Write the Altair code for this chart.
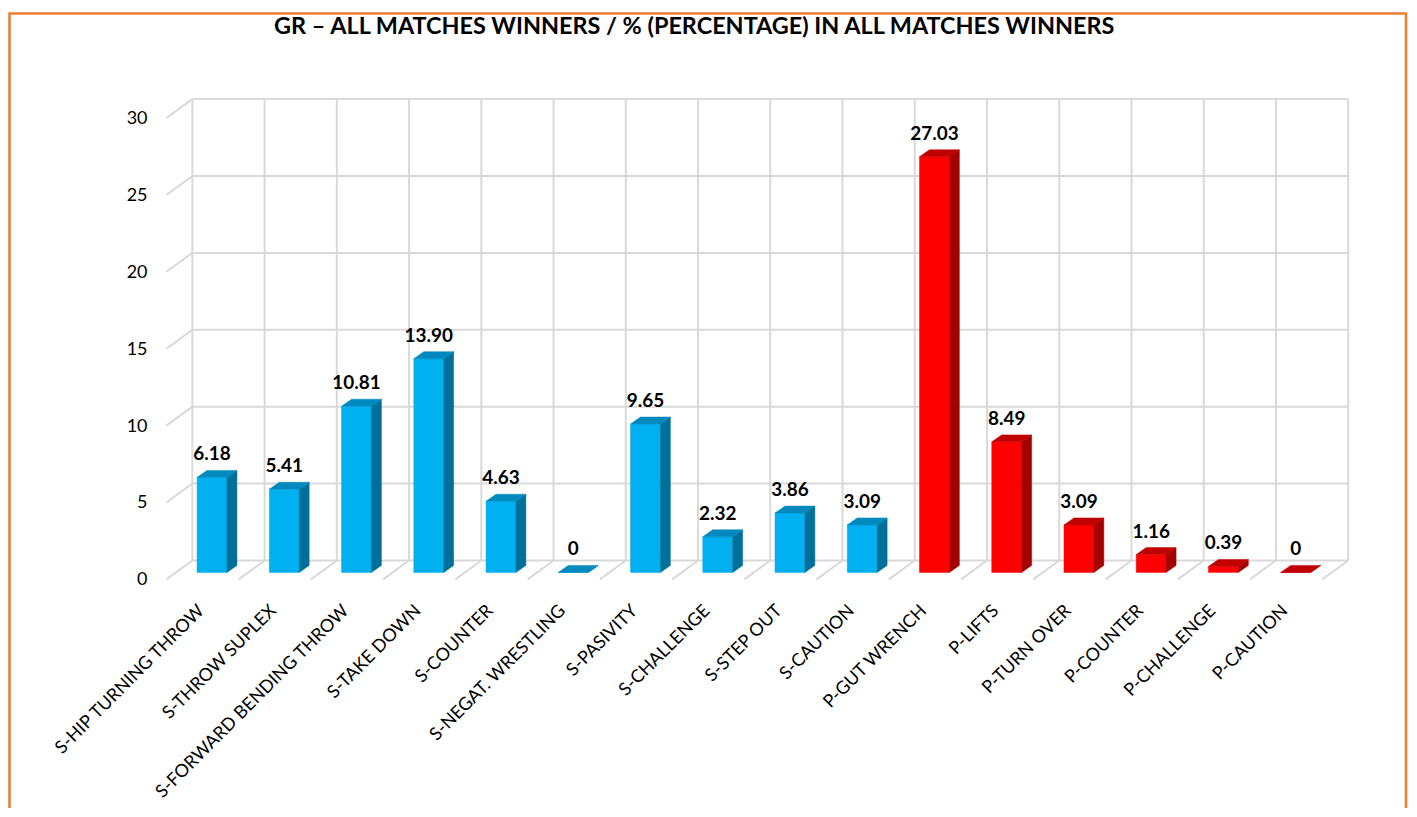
import altair as alt
import pandas as pd

# ---------------- data ----------------
categories = [
    "S-HIP TURNING THROW", "S-THROW SUPLEX", "S-FORWARD BENDING THROW", "S-TAKE DOWN",
    "S-COUNTER", "S-NEGAT. WRESTLING", "S-PASIVITY", "S-CHALLENGE", "S-STEP OUT",
    "S-CAUTION", "P-GUT WRENCH", "P-LIFTS", "P-TURN OVER", "P-COUNTER",
    "P-CHALLENGE", "P-CAUTION",
]
values = [6.18, 5.41, 10.81, 13.90, 4.63, 0, 9.65, 2.32, 3.86, 3.09,
          27.03, 8.49, 3.09, 1.16, 0.39, 0]
value_labels = ["6.18", "5.41", "10.81", "13.90", "4.63", "0", "9.65", "2.32", "3.86",
                "3.09", "27.03", "8.49", "3.09", "1.16", "0.39", "0"]
y_ticks = [0, 5, 10, 15, 20, 25, 30]
title_text = "GR \u2013 ALL MATCHES WINNERS / % (PERCENTAGE) IN ALL MATCHES WINNERS"

# ---------------- geometry / style ----------------
W, H = 1160, 463
N = len(categories)
YMAX = 30
ux = W / N          # px per x unit
uy = H / YMAX       # px per y unit
FRONT_DX, FRONT_DY = -16.5, 12     # bar front plane shift from back wall (px)
HALF = 15                           # half width of bar front face (px)
DEP_X, DEP_Y = 10, 7                # bar depth projection (px)
WALL_DX, WALL_DY = -26, 19          # full depth projection of walls (px)
FONT = "Lato"
GRID = "#D9D9D9"

face_domain = ["S-front", "S-side", "S-top", "P-front", "P-side", "P-top"]
face_range = ["#00B0F0", "#00709B", "#0089BE", "#FF0000", "#A30000", "#C00000"]

rows = []
for i, (cat, v) in enumerate(zip(categories, values)):
    g = cat[0]
    c = i + 0.5
    L = c + (FRONT_DX - HALF) / ux
    R = c + (FRONT_DX + HALF) / ux
    D = DEP_X / ux
    up = DEP_Y / uy
    base = -FRONT_DY / uy
    top = v - FRONT_DY / uy
    polys = {
        "front": [(L, top, base), (R, top, base)],
        "side": [(R, top, base), (R + D, top + up, base + up)],
        "top": [(L, top, top), (L + D, top + up, top), (R, top + up, top),
                (R + D, top + up, top + up)],
    }
    for face, pts in polys.items():
        for (x, y1, y2) in pts:
            rows.append({"poly": f"{i:02d}-{face}", "face": f"{g}-{face}",
                         "x": x, "y": y1, "y2": y2})
poly_df = pd.DataFrame(rows)

bars_df = pd.DataFrame({"cat": categories, "v": values, "lab": value_labels,
                        "c": [i + 0.5 for i in range(N)], "zero": [0] * N})
hgrid_df = pd.DataFrame({"y": y_ticks, "x0": [0] * len(y_ticks), "x1": [N] * len(y_ticks)})
vgrid_df = pd.DataFrame({"x": list(range(N + 1)), "y0": [0] * (N + 1), "y1": [YMAX] * (N + 1)})
diag_df = pd.DataFrame({"x": [0] * len(y_ticks) + list(range(1, N + 1)),
                        "y": y_ticks + [0] * N})

xs = alt.Scale(domain=[0, N], nice=False, zero=False)
ys = alt.Scale(domain=[0, YMAX], nice=False, zero=False)

hgrid = alt.Chart(hgrid_df).mark_rule(color=GRID, strokeWidth=2).encode(
    x=alt.X("x0:Q", scale=xs, axis=None), x2="x1:Q",
    y=alt.Y("y:Q", scale=ys, axis=None))
vgrid = alt.Chart(vgrid_df).mark_rule(color=GRID, strokeWidth=2).encode(
    x=alt.X("x:Q", scale=xs, axis=None),
    y=alt.Y("y0:Q", scale=ys, axis=None), y2="y1:Q")
diag = alt.Chart(diag_df).mark_rule(color=GRID, strokeWidth=2,
                                    x2Offset=WALL_DX, y2Offset=WALL_DY).encode(
    x=alt.X("x:Q", scale=xs, axis=None), x2="x:Q",
    y=alt.Y("y:Q", scale=ys, axis=None), y2="y:Q")

bars = alt.Chart(poly_df).mark_area(strokeWidth=0.5, clip=False, interpolate="linear").encode(
    x=alt.X("x:Q", scale=xs, axis=None),
    y=alt.Y("y:Q", scale=ys, axis=None, stack=None), y2="y2:Q",
    detail="poly:N",
    color=alt.Color("face:N", scale=alt.Scale(domain=face_domain, range=face_range), legend=None),
    stroke=alt.Stroke("face:N", scale=alt.Scale(domain=face_domain, range=face_range), legend=None),
)

val_text = alt.Chart(bars_df).mark_text(
    font=FONT, fontSize=19, fontWeight="bold", color="#000000",
    baseline="alphabetic", align="center",
    xOffset=FRONT_DX, yOffset=FRONT_DY - 17).encode(
    x=alt.X("c:Q", scale=xs, axis=None), y=alt.Y("v:Q", scale=ys, axis=None), text="lab:N")

cat_text = alt.Chart(bars_df).mark_text(
    font=FONT, fontSize=18, color="#000000", angle=315, align="right",
    baseline="middle", xOffset=-27, yOffset=48).encode(
    x=alt.X("c:Q", scale=xs, axis=None), y=alt.Y("zero:Q", scale=ys, axis=None), text="cat:N")

ytick_text = alt.Chart(hgrid_df).mark_text(
    font=FONT, fontSize=18, color="#000000", align="right", baseline="middle",
    xOffset=-45, yOffset=20).encode(
    x=alt.X("x0:Q", scale=xs, axis=None), y=alt.Y("y:Q", scale=ys, axis=None), text="y:Q")

title = alt.Chart(pd.DataFrame({"t": [title_text]})).mark_text(
    font=FONT, fontSize=23.5, fontWeight="bold", color="#000000",
    align="left", baseline="alphabetic").encode(
    x=alt.value(82), y=alt.value(-65), text="t:N")

border = alt.Chart(pd.DataFrame({"a": [0]})).mark_rect(
    filled=False, stroke="#ED7D31", strokeWidth=2.5).encode(
    x=alt.value(-183.5), x2=alt.value(W + 58), y=alt.value(-86), y2=alt.value(H + 300))

chart = alt.layer(hgrid, vgrid, diag, bars, val_text, cat_text, ytick_text, title, border).properties(
    width=W, height=H,
    padding={"left": 185, "top": 90, "right": 61, "bottom": 247},
    autosize="none",
    background="#FFFFFF",
).configure_view(stroke=None)

chart.save("out.html", embed_options={"renderer": "svg", "actions": False})
